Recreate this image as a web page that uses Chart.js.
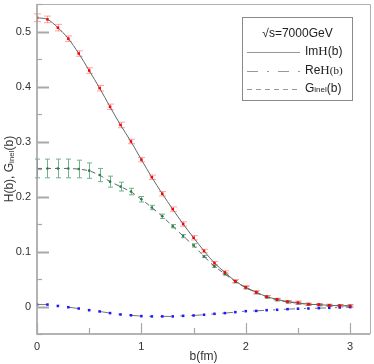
<!DOCTYPE html>
<html>
<head>
<meta charset="utf-8">
<script src="https://cdn.jsdelivr.net/npm/chart.js@4/dist/chart.umd.min.js"></script>
<style>
  body { margin: 0; background: #fff; }
  canvas { display: block; }
</style>
</head>
<body>
<canvas id="chart" width="374" height="364"></canvas>
<script>
// impact parameter b (fm)
const bValues = [0, 0.1, 0.2, 0.3, 0.4, 0.5, 0.6, 0.7, 0.8, 0.9, 1.0, 1.1, 1.2, 1.3, 1.4, 1.5,
  1.6, 1.7, 1.8, 1.9, 2.0, 2.1, 2.2, 2.3, 2.4, 2.5, 2.6, 2.7, 2.8, 2.9, 3.0];

const imH = [0.525, 0.522, 0.507, 0.487, 0.460, 0.429, 0.397, 0.363, 0.330, 0.300, 0.267, 0.235,
  0.205, 0.177, 0.150, 0.125, 0.101, 0.079, 0.062, 0.046, 0.035, 0.026, 0.018, 0.013, 0.009,
  0.007, 0.004, 0.0035, 0.002, 0.0015, 0.001];
const imHErr = [0.007, 0.006, 0.006, 0.005, 0.005, 0.005, 0.005, 0.005, 0.005, 0.004, 0.004, 0.004,
  0.004, 0.004, 0.004, 0.004, 0.003, 0.003, 0.003, 0.003, 0.003, 0.003, 0.002, 0.002, 0.002,
  0.003, 0.002, 0.002, 0.002, 0.002, 0.002];

const reH = [0.0035, 0.0035, 0.001, -0.0013, -0.0037, -0.0067, -0.009, -0.012, -0.0145, -0.016,
  -0.0175, -0.018, -0.018, -0.018, -0.017, -0.0163, -0.015, -0.0133, -0.012, -0.0103, -0.0085,
  -0.008, -0.0067, -0.006, -0.0048, -0.004, -0.0036, -0.003, -0.0024, -0.0018, -0.0012];

const gInel = [0.251, 0.251, 0.251, 0.251, 0.250, 0.247, 0.239, 0.227, 0.218, 0.209, 0.195, 0.180,
  0.164, 0.146, 0.128, 0.111, 0.091, 0.073, 0.059, 0.045, 0.034, 0.025, 0.017, 0.012, 0.008,
  0.006, 0.004, 0.003, 0.002, 0.0015, 0.001];
const gInelErr = [0.017, 0.017, 0.017, 0.017, 0.016, 0.014, 0.012, 0.010, 0.008, 0.006, 0.005, 0.004,
  0.004, 0.003, 0.003, 0.003, 0.002, 0.002, 0.002, 0.002, 0.002, 0.002, 0.002, 0.002, 0.002,
  0.002, 0.002, 0.002, 0.002, 0.002, 0.002];

// tick positions (major ones get a label)
const xTicks = [0, 0.5, 1, 1.5, 2, 2.5, 3];
const yTicks = [-0.05, 0, 0.05, 0.1, 0.15, 0.2, 0.25, 0.3, 0.35, 0.4, 0.45, 0.5, 0.55];

const legendTitle = '\u221As=7000GeV';

function pts(ys) {
  return bValues.map((b, i) => ({ x: b, y: ys[i] }));
}

const SANS = '"Liberation Sans", Arial, sans-serif';
const SERIF = '"Liberation Serif", "Times New Roman", serif';

// draw a run of [text, font, dy] pieces starting at x,y
function drawParts(ctx, parts, x, y) {
  parts.forEach(p => {
    ctx.font = p[1];
    ctx.fillText(p[0], x, y + (p[2] || 0));
    x += ctx.measureText(p[0]).width;
  });
  return x;
}
function partsWidth(ctx, parts) {
  let w = 0;
  parts.forEach(p => { ctx.font = p[1]; w += ctx.measureText(p[0]).width; });
  return w;
}

const decor = {
  id: 'decor',
  beforeDatasetsDraw(chart) {
    const ctx = chart.ctx, xs = chart.scales.x, ys = chart.scales.y;
    const drawErr = (vals, errs, color, cap) => {
      ctx.save();
      ctx.strokeStyle = color;
      ctx.lineWidth = 1;
      bValues.forEach((b, i) => {
        const px = Math.round(xs.getPixelForValue(b)) + 0.5;
        const y1 = ys.getPixelForValue(vals[i] + errs[i]);
        const y2 = ys.getPixelForValue(vals[i] - errs[i]);
        ctx.beginPath();
        ctx.moveTo(px, y1); ctx.lineTo(px, y2);
        ctx.moveTo(px - cap, y1); ctx.lineTo(px + cap, y1);
        ctx.moveTo(px - cap, y2); ctx.lineTo(px + cap, y2);
        ctx.stroke();
      });
      ctx.restore();
    };
    drawErr(gInel, gInelErr, 'rgb(110,180,140)', 2.5);
    drawErr(imH, imHErr, 'rgba(255,90,90,0.55)', 3.5);
  },
  afterDraw(chart) {
    const ctx = chart.ctx, a = chart.chartArea, xs = chart.scales.x, ys = chart.scales.y;
    ctx.save();
    // frame
    ctx.strokeStyle = '#9a9a9a';
    ctx.lineWidth = 1.5;
    ctx.beginPath();
    ctx.moveTo(a.left, a.top); ctx.lineTo(a.left, a.bottom); ctx.lineTo(a.right, a.bottom);
    ctx.stroke();
    ctx.strokeStyle = '#b0b0b0';
    ctx.lineWidth = 1;
    ctx.beginPath();
    ctx.moveTo(a.left, a.top + 0.5); ctx.lineTo(a.right + 0.5, a.top + 0.5); ctx.lineTo(a.right + 0.5, a.bottom);
    ctx.stroke();

    // inward tick marks
    ctx.strokeStyle = '#a8a8a8';
    yTicks.forEach(v => {
      const major = Math.round(v * 100) % 10 === 0;
      const py = Math.round(ys.getPixelForValue(v)) + 0.5;
      ctx.lineWidth = major ? 2 : 1.2;
      ctx.beginPath();
      ctx.moveTo(a.left, py); ctx.lineTo(a.left + (major ? 12 : 5), py);
      ctx.stroke();
    });
    xTicks.forEach(v => {
      const major = Math.round(v * 10) % 10 === 0;
      const px = Math.round(xs.getPixelForValue(v)) + 0.5;
      ctx.lineWidth = 1.2;
      ctx.beginPath();
      ctx.moveTo(px, a.bottom); ctx.lineTo(px, a.bottom - (major ? 11 : 6));
      ctx.stroke();
    });

    // axis titles
    ctx.fillStyle = '#333';
    ctx.textBaseline = 'middle';
    ctx.font = '12px ' + SANS;
    ctx.textAlign = 'center';
    ctx.fillText('b(fm)', (a.left + a.right) / 2, 357);
    ctx.textAlign = 'left';
    const yParts = [['H(b), G', '12px ' + SANS, 0], ['inel', '8px ' + SANS, 2], ['(b)', '12px ' + SANS, 0]];
    ctx.save();
    ctx.translate(10, (a.top + a.bottom) / 2);
    ctx.rotate(-Math.PI / 2);
    drawParts(ctx, yParts, -partsWidth(ctx, yParts) / 2, 0);
    ctx.restore();

    // legend box
    const lx = 242.5, ly = 17.5, lw = 110, lh = 83;
    ctx.fillStyle = '#fff';
    ctx.fillRect(lx, ly, lw, lh);
    ctx.strokeStyle = '#8a8a8a';
    ctx.lineWidth = 1;
    ctx.strokeRect(lx, ly, lw, lh);
    ctx.fillStyle = '#222';
    ctx.textAlign = 'center';
    ctx.font = '12px ' + SANS;
    ctx.fillText(legendTitle, lx + lw / 2, 34);
    ctx.textAlign = 'left';
    const rows = [
      { y: 52, dash: [], parts: [['Im', '12px ' + SANS], ['H', '13px ' + SERIF], ['(b)', '12px ' + SANS]] },
      { y: 71, dash: [11, 9, 2, 9], parts: [['Re', '12px ' + SANS], ['H', '13px ' + SERIF], ['(b)', '11px ' + SERIF]] },
      { y: 89, dash: [5, 4], parts: [['G', '12px ' + SANS], ['inel', '8px ' + SANS, 1], ['(b)', '12px ' + SANS]] }
    ];
    rows.forEach(r => {
      ctx.strokeStyle = '#999';
      ctx.lineWidth = 1;
      ctx.setLineDash(r.dash);
      ctx.beginPath();
      ctx.moveTo(247, r.y + 0.5); ctx.lineTo(300, r.y + 0.5);
      ctx.stroke();
      ctx.setLineDash([]);
      drawParts(ctx, r.parts, 305, r.y);
    });
    ctx.restore();
  }
};

new Chart(document.getElementById('chart'), {
  type: 'scatter',
  data: {
    datasets: [
      {
        label: 'ImH(b)',
        data: pts(imH),
        showLine: true,
        cubicInterpolationMode: 'monotone',
        borderColor: '#666',
        borderWidth: 1,
        pointStyle: 'rect',
        pointRadius: 1.8,
        pointBackgroundColor: '#f00',
        pointBorderColor: '#f00',
        pointBorderWidth: 0
      },
      {
        label: 'ReH(b)',
        data: pts(reH),
        showLine: true,
        borderColor: '#777',
        borderWidth: 1,
        borderDash: [11, 9, 2, 9],
        pointStyle: 'rect',
        pointRadius: 1.8,
        pointBackgroundColor: '#1a1aff',
        pointBorderColor: '#1a1aff',
        pointBorderWidth: 0
      },
      {
        label: 'Ginel(b)',
        data: pts(gInel),
        showLine: true,
        borderColor: '#666',
        borderWidth: 1,
        borderDash: [5, 4],
        pointRadius: 1.3,
        pointBackgroundColor: '#2f7a4a',
        pointBorderColor: '#2f7a4a',
        pointBorderWidth: 0
      }
    ]
  },
  options: {
    responsive: false,
    animation: false,
    layout: { padding: { top: 1, right: 4, left: 0, bottom: 0 } },
    plugins: { legend: { display: false }, tooltip: { enabled: false } },
    scales: {
      x: {
        type: 'linear',
        min: 0,
        max: 3.19,
        grid: { display: false, drawTicks: false },
        border: { display: false },
        afterBuildTicks: s => { s.ticks = xTicks.map(v => ({ value: v })); },
        ticks: {
          autoSkip: false,
          maxRotation: 0,
          padding: 6,
          color: '#333',
          font: { family: SANS, size: 11 },
          callback: v => Math.abs(v - Math.round(v)) < 1e-6 ? String(Math.round(v)) : ''
        },
        afterFit: s => { s.height = 30; s.paddingLeft = 0; s.paddingRight = 0; }
      },
      y: {
        min: -0.05,
        max: 0.55,
        grid: { display: false, drawTicks: false },
        border: { display: false },
        afterBuildTicks: s => { s.ticks = yTicks.map(v => ({ value: v })); },
        ticks: {
          autoSkip: false,
          padding: 6,
          color: '#333',
          font: { family: SANS, size: 11 },
          callback: v => {
            const k = Math.round(v * 100);
            return k % 10 === 0 ? String(k / 100) : '';
          }
        },
        afterFit: s => { s.width = 37; s.paddingTop = 0; s.paddingBottom = 0; }
      }
    }
  },
  plugins: [decor]
});
</script>
</body>
</html>
